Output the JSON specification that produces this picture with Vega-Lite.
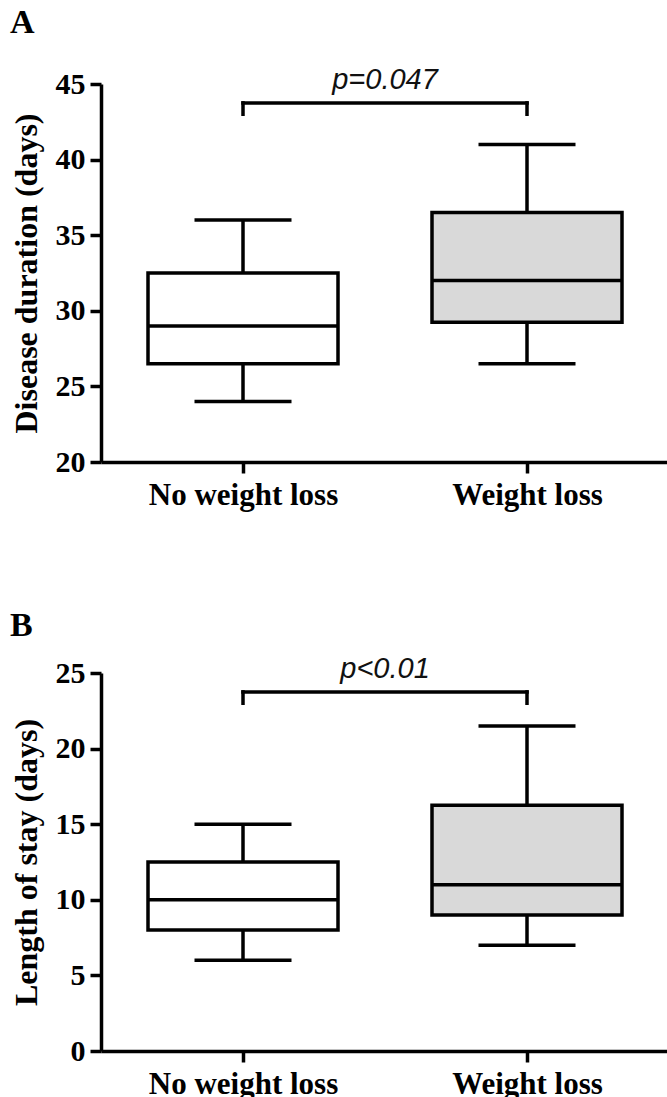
{
  "$schema": "https://vega.github.io/schema/vega-lite/v6.json",
  "padding": {"left": 10, "top": 5, "right": 0, "bottom": 0},
  "background": "white",
  "datasets": {
    "boxA": [
      {"group": "No weight loss", "min": 24.0, "q1": 26.5, "median": 29.0, "q3": 32.5, "max": 36.0},
      {"group": "Weight loss", "min": 26.5, "q1": 29.25, "median": 32.0, "q3": 36.5, "max": 41.0}
    ],
    "boxB": [
      {"group": "No weight loss", "min": 6.0, "q1": 8.0, "median": 10.0, "q3": 12.5, "max": 15.0},
      {"group": "Weight loss", "min": 7.0, "q1": 9.0, "median": 11.0, "q3": 16.25, "max": 21.5}
    ],
    "barA": [{"from": "No weight loss", "to": "Weight loss", "top": 43.75}],
    "barB": [{"from": "No weight loss", "to": "Weight loss", "top": 23.75}],
    "endsA": [
      {"group": "No weight loss", "top": 43.75, "bottom": 43.0},
      {"group": "Weight loss", "top": 43.75, "bottom": 43.0}
    ],
    "endsB": [
      {"group": "No weight loss", "top": 23.75, "bottom": 23.0},
      {"group": "Weight loss", "top": 23.75, "bottom": 23.0}
    ],
    "pA": [{"label": "p=0.047", "y": 44.67}],
    "pB": [{"label": "p<0.01", "y": 24.7}]
  },
  "vconcat": [
    {
      "title": {"text": "A", "offset": 26},
      "width": 568,
      "height": 378,
      "resolve": {"scale": {"x": "independent"}},
      "layer": [
        {
          "encoding": {
            "x": {"field": "group", "type": "nominal", "title": null, "scale": {"type": "point", "padding": 0.5, "domain": ["No weight loss", "Weight loss"]}}
          },
          "layer": [
            {
              "data": {"name": "boxA"},
              "mark": {"type": "rule", "stroke": "#000", "strokeWidth": 3.5},
              "encoding": {
                "y": {"field": "min", "type": "quantitative", "title": "Disease duration (days)", "scale": {"domain": [20, 45], "nice": false, "zero": false}, "axis": {"values": [20, 25, 30, 35, 40, 45]}},
                "y2": {"field": "max"}
              }
            },
            {
              "data": {"name": "boxA"},
              "mark": {"type": "bar", "width": 190, "stroke": "#000", "strokeWidth": 3.5, "opacity": 1},
              "encoding": {
                "y": {"field": "q1", "type": "quantitative", "title": "Disease duration (days)", "scale": {"domain": [20, 45], "nice": false, "zero": false}},
                "y2": {"field": "q3"},
                "color": {"field": "group", "type": "nominal", "scale": {"domain": ["No weight loss", "Weight loss"], "range": ["#ffffff", "#d9d9d9"]}, "legend": null}
              }
            },
            {
              "data": {"name": "boxA"},
              "mark": {"type": "tick", "orient": "horizontal", "size": 188, "thickness": 3.5, "color": "#000", "opacity": 1},
              "encoding": {
                "y": {"field": "median", "type": "quantitative", "title": "Disease duration (days)", "scale": {"domain": [20, 45], "nice": false, "zero": false}}
              }
            },
            {
              "data": {"name": "boxA"},
              "mark": {"type": "tick", "orient": "horizontal", "size": 97, "thickness": 3.5, "color": "#000", "opacity": 1},
              "encoding": {
                "y": {"field": "min", "type": "quantitative", "title": "Disease duration (days)", "scale": {"domain": [20, 45], "nice": false, "zero": false}}
              }
            },
            {
              "data": {"name": "boxA"},
              "mark": {"type": "tick", "orient": "horizontal", "size": 97, "thickness": 3.5, "color": "#000", "opacity": 1},
              "encoding": {
                "y": {"field": "max", "type": "quantitative", "title": "Disease duration (days)", "scale": {"domain": [20, 45], "nice": false, "zero": false}}
              }
            },
            {
              "data": {"name": "barA"},
              "mark": {"type": "rule", "stroke": "#000", "strokeWidth": 3.5, "strokeCap": "square"},
              "encoding": {
                "x": {"field": "from", "type": "nominal", "title": null, "scale": {"type": "point", "padding": 0.5, "domain": ["No weight loss", "Weight loss"]}},
                "x2": {"field": "to"},
                "y": {"field": "top", "type": "quantitative", "title": "Disease duration (days)", "scale": {"domain": [20, 45], "nice": false, "zero": false}}
              }
            },
            {
              "data": {"name": "endsA"},
              "mark": {"type": "rule", "stroke": "#000", "strokeWidth": 3.5, "strokeCap": "square"},
              "encoding": {
                "y": {"field": "top", "type": "quantitative", "title": "Disease duration (days)", "scale": {"domain": [20, 45], "nice": false, "zero": false}},
                "y2": {"field": "bottom"}
              }
            }
          ]
        },
        {
          "data": {"name": "pA"},
          "mark": {"type": "text", "font": "Liberation Sans", "fontStyle": "italic", "fontSize": 29, "baseline": "alphabetic", "color": "#111"},
          "encoding": {
            "x": {"field": "label", "type": "nominal", "scale": {"type": "point", "padding": 0.5}, "axis": null},
            "y": {"field": "y", "type": "quantitative", "title": "Disease duration (days)", "scale": {"domain": [20, 45], "nice": false, "zero": false}},
            "text": {"field": "label"}
          }
        }
      ]
    },
    {
      "title": {"text": "B", "offset": 12},
      "width": 568,
      "height": 378,
      "resolve": {"scale": {"x": "independent"}},
      "layer": [
        {
          "encoding": {
            "x": {"field": "group", "type": "nominal", "title": null, "scale": {"type": "point", "padding": 0.5, "domain": ["No weight loss", "Weight loss"]}}
          },
          "layer": [
            {
              "data": {"name": "boxB"},
              "mark": {"type": "rule", "stroke": "#000", "strokeWidth": 3.5},
              "encoding": {
                "y": {"field": "min", "type": "quantitative", "title": "Length of stay (days)", "scale": {"domain": [0, 25], "nice": false}, "axis": {"values": [0, 5, 10, 15, 20, 25]}},
                "y2": {"field": "max"}
              }
            },
            {
              "data": {"name": "boxB"},
              "mark": {"type": "bar", "width": 190, "stroke": "#000", "strokeWidth": 3.5, "opacity": 1},
              "encoding": {
                "y": {"field": "q1", "type": "quantitative", "title": "Length of stay (days)", "scale": {"domain": [0, 25], "nice": false}},
                "y2": {"field": "q3"},
                "color": {"field": "group", "type": "nominal", "scale": {"domain": ["No weight loss", "Weight loss"], "range": ["#ffffff", "#d9d9d9"]}, "legend": null}
              }
            },
            {
              "data": {"name": "boxB"},
              "mark": {"type": "tick", "orient": "horizontal", "size": 188, "thickness": 3.5, "color": "#000", "opacity": 1},
              "encoding": {
                "y": {"field": "median", "type": "quantitative", "title": "Length of stay (days)", "scale": {"domain": [0, 25], "nice": false}}
              }
            },
            {
              "data": {"name": "boxB"},
              "mark": {"type": "tick", "orient": "horizontal", "size": 97, "thickness": 3.5, "color": "#000", "opacity": 1},
              "encoding": {
                "y": {"field": "min", "type": "quantitative", "title": "Length of stay (days)", "scale": {"domain": [0, 25], "nice": false}}
              }
            },
            {
              "data": {"name": "boxB"},
              "mark": {"type": "tick", "orient": "horizontal", "size": 97, "thickness": 3.5, "color": "#000", "opacity": 1},
              "encoding": {
                "y": {"field": "max", "type": "quantitative", "title": "Length of stay (days)", "scale": {"domain": [0, 25], "nice": false}}
              }
            },
            {
              "data": {"name": "barB"},
              "mark": {"type": "rule", "stroke": "#000", "strokeWidth": 3.5, "strokeCap": "square"},
              "encoding": {
                "x": {"field": "from", "type": "nominal", "title": null, "scale": {"type": "point", "padding": 0.5, "domain": ["No weight loss", "Weight loss"]}},
                "x2": {"field": "to"},
                "y": {"field": "top", "type": "quantitative", "title": "Length of stay (days)", "scale": {"domain": [0, 25], "nice": false}}
              }
            },
            {
              "data": {"name": "endsB"},
              "mark": {"type": "rule", "stroke": "#000", "strokeWidth": 3.5, "strokeCap": "square"},
              "encoding": {
                "y": {"field": "top", "type": "quantitative", "title": "Length of stay (days)", "scale": {"domain": [0, 25], "nice": false}},
                "y2": {"field": "bottom"}
              }
            }
          ]
        },
        {
          "data": {"name": "pB"},
          "mark": {"type": "text", "font": "Liberation Sans", "fontStyle": "italic", "fontSize": 29, "baseline": "alphabetic", "color": "#111"},
          "encoding": {
            "x": {"field": "label", "type": "nominal", "scale": {"type": "point", "padding": 0.5}, "axis": null},
            "y": {"field": "y", "type": "quantitative", "title": "Length of stay (days)", "scale": {"domain": [0, 25], "nice": false}},
            "text": {"field": "label"}
          }
        }
      ]
    }
  ],
  "spacing": 98,
  "config": {
    "view": {"stroke": null},
    "title": {"anchor": "start", "frame": "bounds", "font": "Liberation Serif", "fontWeight": "bold", "fontSize": 34, "color": "#000"},
    "axis": {
      "grid": false,
      "domainColor": "#000",
      "domainWidth": 3.5,
      "tickColor": "#000",
      "tickWidth": 3.5,
      "tickSize": 11,
      "labelFont": "Liberation Serif",
      "labelFontWeight": "bold",
      "labelColor": "#000",
      "labelLimit": 400,
      "titleFont": "Liberation Serif",
      "titleFontWeight": "bold",
      "titleColor": "#000"
    },
    "axisX": {"labelAngle": 0, "labelFontSize": 31, "labelPadding": 7},
    "axisY": {"labelFontSize": 30, "labelPadding": 5, "titleFontSize": 32, "titlePadding": 12}
  }
}
